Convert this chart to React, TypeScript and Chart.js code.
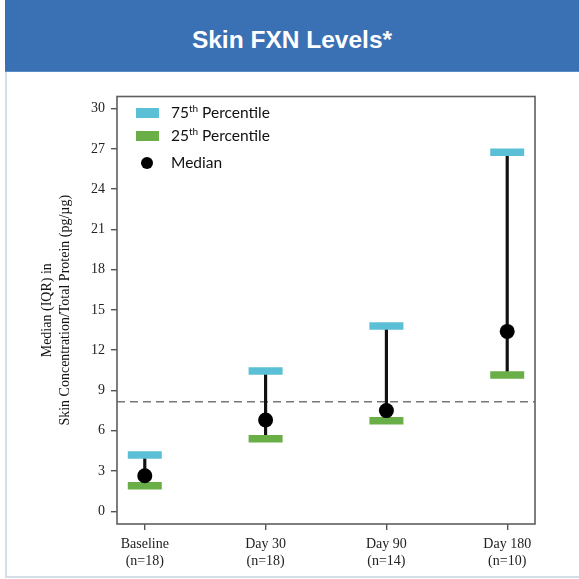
import React, { useEffect, useRef } from "react";
import { Chart, registerables } from "chart.js";

Chart.register(...registerables);

const categories: string[][] = [
  ["Baseline", "(n=18)"],
  ["Day 30", "(n=18)"],
  ["Day 90", "(n=14)"],
  ["Day 180", "(n=10)"],
];
const p75Values = [4.2, 10.45, 13.8, 26.75];
const p25Values = [1.9, 5.4, 6.75, 10.15];
const medianValues = [2.65, 6.8, 7.5, 13.4];
const referenceValue = 8.15;
const yTickValues = [0, 3, 6, 9, 12, 15, 18, 21, 24, 27, 30];
const xTickValues = [0, 1, 2, 3];
const title = "Skin FXN Levels*";
const yAxisTitle = ["Median (IQR) in", "Skin Concentration/Total Protein (pg/µg)"];

const CYAN = "#5bc0d5";
const GREEN = "#6aae48";
const SERIF = "'Liberation Serif', 'Times New Roman', serif";
const LEGEND_FONT = "Lato, 'Open Sans', sans-serif";

const refLinePlugin = {
  id: "refLine",
  beforeDatasetsDraw(chart: any) {
    const { ctx, chartArea, scales } = chart;
    const y = scales.y.getPixelForValue(referenceValue);
    ctx.save();
    ctx.strokeStyle = "#777";
    ctx.lineWidth = 1.5;
    ctx.setLineDash([8, 5]);
    ctx.beginPath();
    ctx.moveTo(chartArea.left, y);
    ctx.lineTo(chartArea.right, y);
    ctx.stroke();
    ctx.restore();
  },
  afterDraw(chart: any) {
    const { ctx, chartArea } = chart;
    ctx.save();
    ctx.strokeStyle = "#5e5e5e";
    ctx.lineWidth = 1.6;
    ctx.strokeRect(
      chartArea.left,
      chartArea.top,
      chartArea.right - chartArea.left,
      chartArea.bottom - chartArea.top
    );
    ctx.restore();
  },
};

function ChartCanvas() {
  const ref = useRef<HTMLCanvasElement | null>(null);
  useEffect(() => {
    if (!ref.current) return;
    const chart = new Chart(ref.current, {
      type: "scatter",
      data: {
        datasets: [
          {
            type: "scatter",
            label: "Median",
            data: medianValues.map((v, i) => ({ x: i, y: v })),
            pointStyle: "circle",
            pointRadius: 7.5,
            pointBackgroundColor: "#000",
            pointBorderWidth: 0,
            order: 0,
          } as any,
          {
            type: "scatter",
            label: "75th Percentile",
            data: p75Values.map((v, i) => ({ x: i, y: v })),
            pointStyle: "line",
            pointRadius: 17,
            pointBorderWidth: 7.5,
            pointBorderColor: CYAN,
            order: 1,
          } as any,
          {
            type: "scatter",
            label: "25th Percentile",
            data: p25Values.map((v, i) => ({ x: i, y: v })),
            pointStyle: "line",
            pointRadius: 17,
            pointBorderWidth: 7.5,
            pointBorderColor: GREEN,
            order: 2,
          } as any,
          {
            type: "bar",
            label: "IQR",
            data: p25Values.map((v, i) => ({ x: i, y: [v, p75Values[i]] })),
            backgroundColor: "#111",
            barThickness: 2.5,
            order: 3,
          } as any,
        ],
      },
      options: {
        responsive: false,
        animation: false,
        devicePixelRatio: 1,
        layout: { padding: { left: 0, right: 44, top: 20, bottom: 0 } },
        plugins: {
          legend: { display: false },
          tooltip: { enabled: false },
        },
        scales: {
          x: {
            type: "linear",
            min: -0.23,
            max: 3.23,
            offset: false,
            afterBuildTicks: (scale: any) => {
              scale.ticks = xTickValues.map((v) => ({ value: v }));
            },
            afterFit: (scale: any) => {
              scale.height = 55;
            },
            border: { display: false },
            grid: {
              offset: false,
              drawOnChartArea: false,
              drawTicks: true,
              tickLength: 6,
              color: "#555",
              lineWidth: 1.4,
            },
            ticks: {
              padding: 6,
              color: "#222",
              font: { family: SERIF, size: 14, lineHeight: 1.2 },
              callback: (value: any) => categories[Math.round(Number(value))] as any,
            },
          },
          y: {
            type: "linear",
            min: -0.95,
            max: 30.9,
            afterBuildTicks: (scale: any) => {
              scale.ticks = yTickValues.map((v) => ({ value: v }));
            },
            afterFit: (scale: any) => {
              scale.width = 117;
            },
            border: { display: false },
            grid: {
              drawOnChartArea: false,
              drawTicks: true,
              tickLength: 6,
              color: "#555",
              lineWidth: 1.4,
            },
            ticks: {
              padding: 6,
              color: "#222",
              font: { family: SERIF, size: 14 },
            },
            title: {
              display: true,
              text: yAxisTitle,
              color: "#111",
              font: { family: SERIF, size: 14, lineHeight: 1.3 },
              padding: { top: 38, bottom: 0 },
            },
          },
        },
      },
      plugins: [refLinePlugin],
    } as any);
    return () => chart.destroy();
  }, []);
  return (
    <canvas
      ref={ref}
      width={579}
      height={507}
      style={{ position: "absolute", left: 0, top: 72, width: 579, height: 507 }}
    />
  );
}

function LegendRow(props: { top: number; children: React.ReactNode }) {
  return (
    <div
      style={{
        position: "absolute",
        left: 171,
        top: props.top,
        height: 20,
        lineHeight: "20px",
        fontFamily: LEGEND_FONT,
        fontSize: 15.5,
        color: "#111",
        whiteSpace: "nowrap",
      }}
    >
      {props.children}
    </div>
  );
}

export default function App() {
  return (
    <div
      style={{
        position: "fixed",
        left: 0,
        top: 0,
        width: 579,
        height: 579,
        background: "#fff",
        overflow: "hidden",
      }}
    >
      <div
        style={{
          position: "absolute",
          left: 5,
          top: 0,
          width: 574,
          height: 72,
          background: "#3a70b4",
          borderBottom: "1px solid #5b8cc6",
          boxSizing: "border-box",
          color: "#fff",
          fontFamily: "'Liberation Sans', Arial, sans-serif",
          fontWeight: "bold",
          fontSize: 24.5,
          textAlign: "center",
          lineHeight: "80px",
        }}
      >
        {title}
      </div>
      <div style={{ position: "absolute", left: 5, top: 72, width: 1.5, height: 505, background: "#d5dde7" }} />
      <div style={{ position: "absolute", left: 5, top: 576, width: 574, height: 1.5, background: "#d5dde7" }} />
      <ChartCanvas />
      <div style={{ position: "absolute", left: 136, top: 108, width: 23, height: 10, background: CYAN }} />
      <LegendRow top={102}>
        75<span style={{ fontSize: 10, position: "relative", top: -6 }}>th</span> Percentile
      </LegendRow>
      <div style={{ position: "absolute", left: 136, top: 130.5, width: 23, height: 10, background: GREEN }} />
      <LegendRow top={125}>
        25<span style={{ fontSize: 10, position: "relative", top: -6 }}>th</span> Percentile
      </LegendRow>
      <div
        style={{
          position: "absolute",
          left: 141,
          top: 157,
          width: 12,
          height: 12,
          borderRadius: "50%",
          background: "#000",
        }}
      />
      <LegendRow top={152}>Median</LegendRow>
    </div>
  );
}
